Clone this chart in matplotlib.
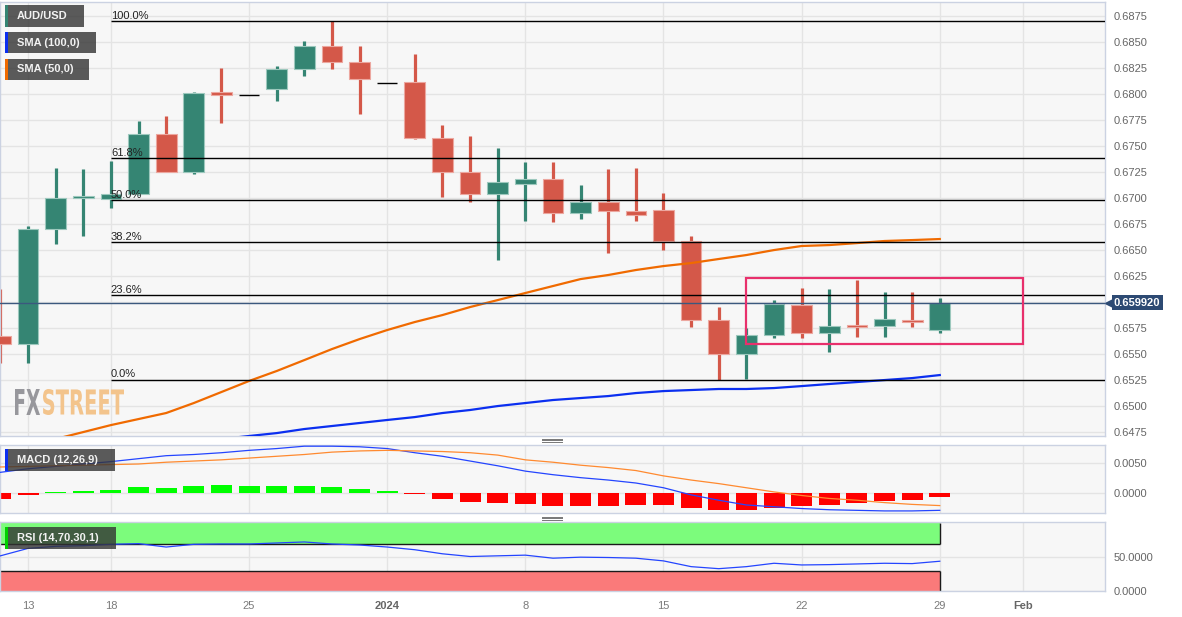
import numpy as np
import matplotlib
matplotlib.use('Agg')
import matplotlib.pyplot as plt
from matplotlib.patches import Rectangle, PathPatch
from matplotlib.textpath import TextPath
from matplotlib.font_manager import FontProperties
from matplotlib.transforms import Affine2D, blended_transform_factory

plt.rcParams['font.family'] = ['Liberation Sans', 'DejaVu Sans']

nan = np.nan

# AUD/USD daily candles, one per trading day, Dec 12 2023 .. Jan 29 2024
opens = [0.65673, 0.65596, 0.66702, 0.67000, 0.66995, 0.67035, 0.67615, 0.67250, 0.68010, 0.67990,
         0.68048, 0.68240, 0.68462, 0.68308, 0.68110, 0.68115, 0.67577, 0.67250, 0.67039, 0.67135,
         0.67183, 0.66856, 0.66962, 0.66880, 0.66885, 0.66587, 0.65827, 0.65500, 0.65683, 0.65971,
         0.65702, 0.65775, 0.65769, 0.65827, 0.65731]
highs = [0.66125, 0.66731, 0.67289, 0.67279, 0.67356, 0.67740, 0.67788, 0.68020, 0.68250, 0.67990,
         0.68269, 0.68510, 0.68705, 0.68462, 0.68110, 0.68385, 0.67702, 0.67596, 0.67481, 0.67346,
         0.67346, 0.67125, 0.67279, 0.67289, 0.67048, 0.66635, 0.65950, 0.65750, 0.66019, 0.66135,
         0.66125, 0.66212, 0.66096, 0.66096, 0.66038]
lows = [0.65414, 0.65414, 0.66558, 0.66635, 0.66904, 0.67030, 0.67250, 0.67230, 0.67721, 0.67990,
        0.67933, 0.68173, 0.68240, 0.67808, 0.68110, 0.67567, 0.67010, 0.66962, 0.66404, 0.66779,
        0.66770, 0.66798, 0.66471, 0.66779, 0.66500, 0.65760, 0.65255, 0.65260, 0.65650, 0.65650,
        0.65520, 0.65664, 0.65664, 0.65760, 0.65702]
closes = [0.65596, 0.66702, 0.67000, 0.67020, 0.67035, 0.67615, 0.67250, 0.68010, 0.68000, 0.67990,
          0.68240, 0.68462, 0.68308, 0.68144, 0.68110, 0.67577, 0.67250, 0.67039, 0.67154, 0.67183,
          0.66856, 0.66962, 0.66880, 0.66837, 0.66587, 0.65827, 0.65500, 0.65683, 0.65980, 0.65702,
          0.65769, 0.65765, 0.65837, 0.65808, 0.65992]

sma_50 = [nan, nan, 0.64683, 0.64750, 0.64817, 0.64875, 0.64933, 0.65029, 0.65135, 0.65241,
          0.65337, 0.65442, 0.65548, 0.65644, 0.65731, 0.65808, 0.65875, 0.65952, 0.66019, 0.66087,
          0.66154, 0.66221, 0.66260, 0.66308, 0.66346, 0.66375, 0.66414, 0.66452, 0.66500, 0.66539,
          0.66548, 0.66567, 0.66587, 0.66596, 0.66606]
sma_100 = [nan, nan, nan, nan, nan, nan, nan, 0.64654, 0.64683, 0.64712,
           0.64740, 0.64779, 0.64808, 0.64837, 0.64866, 0.64894, 0.64933, 0.64962, 0.65000, 0.65029,
           0.65058, 0.65077, 0.65096, 0.65125, 0.65144, 0.65154, 0.65164, 0.65164, 0.65173, 0.65192,
           0.65212, 0.65231, 0.65250, 0.65269, 0.65298]

macd_line = [0.0035, 0.0041, 0.0045, 0.0049, 0.0053, 0.0058, 0.0063, 0.0065, 0.0068, 0.0072,
             0.0075, 0.0079, 0.0079, 0.0078, 0.0075, 0.0068, 0.0062, 0.0054, 0.0046, 0.0037,
             0.0031, 0.0026, 0.0022, 0.0017, 0.0009, -0.0003, -0.0012, -0.0020, -0.0023, -0.0026,
             -0.0028, -0.0029, -0.0030, -0.0030, -0.0029]
macd_signal = [0.0044, 0.0045, 0.0046, 0.0047, 0.0048, 0.0049, 0.0052, 0.0054, 0.0056, 0.0059,
               0.0062, 0.0065, 0.0069, 0.0071, 0.0072, 0.0071, 0.0070, 0.0068, 0.0064, 0.0056,
               0.0052, 0.0047, 0.0043, 0.0038, 0.0029, 0.0022, 0.0016, 0.0009, 0.0002, -0.0004,
               -0.0009, -0.0012, -0.0016, -0.0019, -0.0021]
macd_hist = [-0.0010, -0.00033, 0.0002, 0.00043, 0.0006, 0.0010, 0.0009, 0.0012, 0.0014, 0.0012,
             0.0012, 0.0012, 0.00105, 0.0007, 0.0004, -0.00023, -0.00095, -0.00145, -0.0017, -0.0018,
             -0.0021, -0.0021, -0.0021, -0.0020, -0.0020, -0.0025, -0.0028, -0.0028, -0.00245, -0.0022,
             -0.00195, -0.0017, -0.0014, -0.0011, -0.0007]
rsi = [52, 63, 66, 67, 69, 70, 65, 69, 69.5, 69.5, 71, 72.5, 69.5, 68, 65, 61, 55, 51, 52, 53,
       48.5, 50, 49.5, 48.5, 44.5, 36, 33, 36, 41, 38.5, 39, 40, 41, 40.5, 44]

# fibonacci retracement drawn between the Dec 28 high and the Jan 17 low
fib_high, fib_low = 0.68705, 0.65255
fib_ratios = [1.0, 0.618, 0.5, 0.382, 0.236, 0.0]
fib_start = 4

last_price = 0.65992
# consolidation box (Jan 18 .. Feb 1)
box_x = (27, 37)
box_y = (0.65596, 0.66231)

tick_pos = [1, 4, 9, 14, 19, 24, 29, 34, 37]
tick_lbl = ['13', '18', '25', '2024', '8', '15', '22', '29', 'Feb']
bold_lbl = {'2024', 'Feb'}

GREEN = '#358573'
RED = '#d45849'
PANEL = '#f7f7f7'
GRID = '#e4e4e4'
SPINE = '#cbd2e2'
W, H = 1182, 617

fig = plt.figure(figsize=(W / 100, H / 100), dpi=100)
fig.patch.set_facecolor('white')


def px_axes(l, t, r, b, **kw):
    return fig.add_axes([l / W, 1 - b / H, (r - l) / W, (b - t) / H], **kw)


ax = px_axes(0, 1.5, 1105, 436)
axm = px_axes(0, 445, 1105, 513, sharex=ax)
axr = px_axes(0, 522, 1105, 591, sharex=ax)

for a in (ax, axm, axr):
    a.set_facecolor(PANEL)
    for s in a.spines.values():
        s.set_color(SPINE)
        s.set_linewidth(1)
    a.yaxis.tick_right()
    a.tick_params(axis='y', length=0, pad=6, labelsize=8, labelcolor='#666666')
    a.tick_params(axis='x', length=0)
    a.grid(True, color=GRID, lw=1, zorder=0)
    a.set_axisbelow(True)

ax.set_xlim(-0.015, 39.98)

# ---- price panel ----
x = np.arange(len(opens))
for i in x:
    o, h, l, c = opens[i], highs[i], lows[i], closes[i]
    if h == l:
        ax.hlines(o, i - 0.37, i + 0.37, color='black', lw=1, zorder=3)
        continue
    col = GREEN if c >= o else RED
    edge = '#9cc8bd' if c >= o else '#eca79f'
    ax.vlines(i, l, h, color=col, lw=2.3, zorder=2)
    body = abs(c - o)
    if body < 0.00025:
        bottom, body = (o + c) / 2 - 0.000125, 0.00025
    else:
        bottom = min(o, c)
    ax.add_patch(Rectangle((i - 0.375, bottom), 0.75, body, fc=col, ec=edge, lw=0.8, zorder=3))

ax.plot(x, sma_50, color='#f06a00', lw=1.6, zorder=4)
ax.plot(x, sma_100, color='#0b2ff0', lw=1.6, zorder=4)

for r in fib_ratios:
    lvl = fib_low + r * (fib_high - fib_low)
    ax.hlines(lvl, fib_start, 41, color='black', lw=1, zorder=5)
    ax.annotate('%.1f%%' % (r * 100), (fib_start, lvl), xytext=(0, 1.5), textcoords='offset points',
                ha='left', va='baseline', fontsize=8, color='#222222', zorder=6)

ax.add_patch(Rectangle((box_x[0], box_y[0]), box_x[1] - box_x[0], box_y[1] - box_y[0],
                       fc='none', ec='#e8306c', lw=1.6, zorder=6))

ax.axhline(last_price, color='#3b587e', lw=1, zorder=5)

yt = np.arange(0.6475, 0.68751, 0.0025)
ax.set_yticks(yt)
ax.set_yticklabels(['' if abs(v - 0.66) < 1e-6 else '%.4f' % v for v in yt])
ax.set_ylim(0.64712, 0.68890)
ax.tick_params(axis='x', labelbottom=False)

blend = blended_transform_factory(ax.transAxes, ax.transData)
ax.text(1 + 9 / 1105, last_price, '%.6f' % last_price, transform=blend, ha='left', va='center',
        color='white', fontsize=8, fontweight='bold', clip_on=False, zorder=10,
        bbox=dict(boxstyle='square,pad=0.22', fc='#2d4a73', ec='none'))
ax.plot([1 + 4 / 1105], [last_price], marker='<', ms=6, color='#2d4a73', transform=blend,
        clip_on=False, zorder=10)

# watermark
def watermark(s, l, t, r, b, color):
    tp = TextPath((0, 0), s, size=10, prop=FontProperties(family='DejaVu Sans', weight='bold'))
    e = tp.get_extents()
    tr = Affine2D().translate(-e.x0, -e.y0).scale((r - l) / e.width, (b - t) / e.height).translate(l, H - b)
    ax.add_artist(PathPatch(tp, transform=tr, fc=color, ec='none', zorder=1))


watermark('FX', 15, 389, 40, 415, '#97979c')
watermark('STREET', 43, 389, 124, 415, '#f3c48c')

# ---- MACD panel ----
hist_cols = ['#00ff00' if v > 0 else '#ff0000' for v in macd_hist]
axm.bar(x, macd_hist, width=0.76, color=hist_cols, zorder=2)
axm.plot(x, macd_line, color='#2445ff', lw=0.9, zorder=3)
axm.plot(x, macd_signal, color='#ff8a30', lw=0.9, zorder=3)
axm.set_yticks([0, 0.005])
axm.set_yticklabels(['0.0000', '0.0050'])
axm.set_ylim(-0.00335, 0.0081)
axm.tick_params(axis='x', labelbottom=False)

# ---- RSI panel ----
axr.fill_between([-1, 34], 70, 100, color='#7cfc7c', lw=0, zorder=1)
axr.fill_between([-1, 34], 0, 30, color='#fa7a7a', lw=0, zorder=1)
axr.hlines([70, 30], -1, 34, color='#1a1a1a', lw=1, zorder=2)
axr.vlines(34, 70, 100, color='#1a1a1a', lw=1, zorder=2)
axr.vlines(34, 0, 30, color='#1a1a1a', lw=1, zorder=2)
axr.plot(x, rsi, color='#2445ff', lw=0.9, zorder=3)
axr.set_yticks([0, 50])
axr.set_yticklabels(['0.0000', '50.0000'])
axr.set_ylim(0, 102)

axr.set_xticks(tick_pos)
axr.set_xticklabels(tick_lbl)
axr.tick_params(axis='x', pad=7, labelsize=8, labelcolor='#7a7a7a')
for t in axr.get_xticklabels():
    if t.get_text() in bold_lbl:
        t.set_fontweight('bold')
        t.set_color('#666666')


# ---- indicator tags ----
def tag(text, l, t, w, h, accent):
    fig.add_artist(Rectangle((l / W, 1 - (t + h) / H), w / W, h / H, transform=fig.transFigure,
                             fc='#333333', alpha=0.8, ec='none', zorder=10))
    fig.add_artist(Rectangle((l / W, 1 - (t + h) / H), 2.5 / W, h / H, transform=fig.transFigure,
                             fc=accent, ec='none', zorder=11))
    fig.text((l + 12) / W, 1 - (t + h / 2) / H, text, color='#f2f2f2', fontsize=8,
             fontweight='bold', va='center', zorder=12)


tag('AUD/USD', 5, 5, 79, 22, GREEN)
tag('SMA (100,0)', 5, 32, 91, 21, '#0b2ff0')
tag('SMA (50,0)', 5, 59, 84, 21, '#f06a00')
tag('MACD (12,26,9)', 5, 449, 110, 22, '#0b2ff0')
tag('RSI (14,70,30,1)', 5, 527, 111, 22, '#00d000')

# panel resize handles
for yc in (440, 518):
    for dy in (-1.5, 0, 1.5):
        fig.add_artist(plt.Line2D([542 / W, 562 / W], [1 - (yc + dy) / H] * 2,
                                  transform=fig.transFigure, color='#777777', lw=0.7))

fig.savefig('out.png', dpi=100)
